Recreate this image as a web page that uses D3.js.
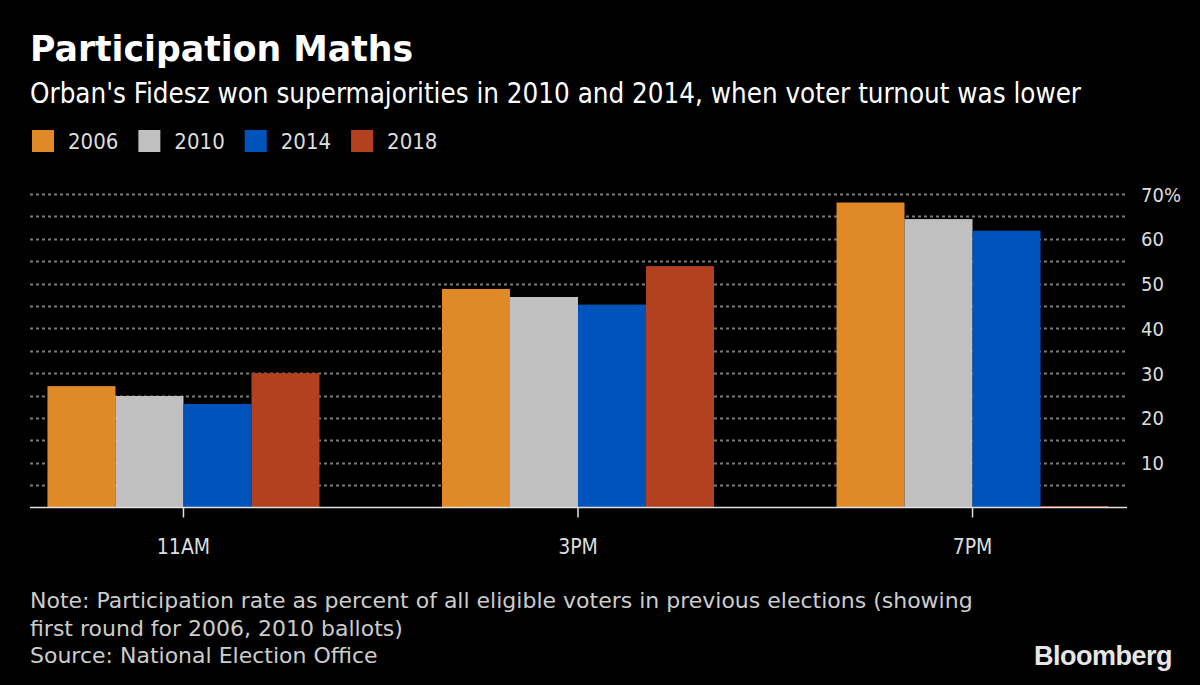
<!DOCTYPE html>
<html>
<head>
<meta charset="utf-8">
<script src="https://cdn.jsdelivr.net/npm/d3@7"></script>
<style>
  html, body { margin: 0; padding: 0; background: #000; }
  svg { display: block; }
  text { font-family: "DejaVu Sans Condensed", "DejaVu Sans", sans-serif; }
</style>
</head>
<body>
<svg id="chart" width="1200" height="685"></svg>
<script>
// ---- data ----
const categories = ["11AM", "3PM", "7PM"];
const years = ["2006", "2010", "2014", "2018"];
const values2006 = [27.1, 48.8, 68.1];
const values2010 = [24.9, 47.0, 64.4];
const values2014 = [23.1, 45.3, 61.8];
const values2018 = [30.0, 53.9, 0];
const yTicks = [10, 20, 30, 40, 50, 60, 70];
const gridValues = [5, 10, 15, 20, 25, 30, 35, 40, 45, 50, 55, 60, 65, 70];
const colors = ["#df8a27", "#c0c0c0", "#0053bb", "#b3401e"];

const title = "Participation Maths";
const subtitle = "Orban's Fidesz won supermajorities in 2010 and 2014, when voter turnout was lower";
const noteLines = [
  "Note: Participation rate as percent of all eligible voters in previous elections (showing",
  "first round for 2006, 2010 ballots)",
  "Source: National Election Office"
];

const seriesValues = [values2006, values2010, values2014, values2018];

// ---- layout ----
const svg = d3.select("#chart");
svg.append("rect").attr("width", 1200).attr("height", 685).attr("fill", "#000");

const plotLeft = 29, plotRight = 1127, plotTop = 194, plotBottom = 507.5;

const x0 = d3.scaleBand().domain(categories).range([plotLeft, plotRight])
  .paddingInner(0.3105).paddingOuter(0.0468);
const x1 = d3.scaleBand().domain(years).range([0, x0.bandwidth()]);
const y = d3.scaleLinear().domain([0, 70]).range([plotBottom, plotTop]);
const color = d3.scaleOrdinal().domain(years).range(colors);

// title + subtitle
svg.append("text").attr("x", 30).attr("y", 61)
  .attr("fill", "#fff").style("font-family", "'DejaVu Sans', sans-serif")
  .style("font-weight", "bold").style("font-size", "34.7px").text(title);
svg.append("text").attr("x", 30).attr("y", 103)
  .attr("fill", "#fff").style("font-size", "27.5px").text(subtitle);

// legend
const legend = svg.append("g");
let lx = 32;
years.forEach((yr, i) => {
  const g = legend.append("g").attr("transform", `translate(${lx},130)`);
  g.append("rect").attr("width", 22).attr("height", 22).attr("fill", color(yr));
  const t = g.append("text").attr("x", 36).attr("y", 19)
    .attr("fill", "#ddd").style("font-size", "22px").text(yr);
  lx += 36 + t.node().getComputedTextLength() + 20;
});

// gridlines
svg.append("g").selectAll("line").data(gridValues).join("line")
  .attr("x1", plotLeft + 1).attr("x2", plotRight - 1)
  .attr("y1", d => Math.round(y(d)) + 0.5).attr("y2", d => Math.round(y(d)) + 0.5)
  .attr("stroke", "#7a7a7a").attr("stroke-width", 1.8)
  .attr("stroke-dasharray", "3,3");

// bars
const rows = categories.map((c, i) => ({ cat: c, vals: years.map((yr, j) => ({ yr, v: seriesValues[j][i] })) }));
svg.append("g").selectAll("g").data(rows).join("g")
  .attr("transform", d => `translate(${x0(d.cat)},0)`)
  .selectAll("rect").data(d => d.vals).join("rect")
  .attr("x", d => x1(d.yr))
  .attr("width", x1.bandwidth())
  .attr("y", d => Math.min(y(d.v), y(0) - 1.5))
  .attr("height", d => Math.max(y(0) - y(d.v), 1.5))
  .attr("fill", d => color(d.yr));

// x axis
const xAxis = svg.append("g").attr("transform", `translate(0,${plotBottom})`)
  .call(d3.axisBottom(x0).tickSize(10).tickSizeOuter(0));
xAxis.select(".domain").attr("stroke", "#e0e0e0").attr("stroke-width", 1.5)
  .attr("d", `M${plotLeft + 1},0H${plotRight}`);
xAxis.selectAll(".tick line").attr("stroke", "#e0e0e0").attr("stroke-width", 1.5);
xAxis.selectAll(".tick text").attr("fill", "#ddd").attr("dy", "0")
  .attr("y", 46).style("font-size", "21px")
  .style("font-family", "'DejaVu Sans Condensed', sans-serif");

// y axis (right)
const yAxis = svg.append("g").attr("transform", `translate(1141,0)`)
  .call(d3.axisRight(y).tickValues(yTicks).tickSize(0)
    .tickFormat(d => d === 70 ? d + "%" : d));
yAxis.select(".domain").remove();
yAxis.selectAll(".tick text").attr("x", 0).attr("fill", "#ddd")
  .attr("dy", "0.35em")
  .style("font-size", "20px").style("text-anchor", "start")
  .style("font-family", "'DejaVu Sans Condensed', sans-serif");

// notes
svg.append("g").selectAll("text").data(noteLines).join("text")
  .attr("x", 30).attr("y", (d, i) => 608 + i * 27.5)
  .attr("fill", "#ccc").style("font-family", "'DejaVu Sans', sans-serif")
  .style("font-size", "22px").text(d => d);

// Bloomberg logo
svg.append("text").attr("x", 1172).attr("y", 665)
  .attr("text-anchor", "end").attr("fill", "#e6e6e6")
  .style("font-family", "'Liberation Sans', Arial, sans-serif")
  .style("font-weight", "bold").style("font-size", "27px")
  .style("letter-spacing", "-0.5px").text("Bloomberg");
</script>
</body>
</html>
